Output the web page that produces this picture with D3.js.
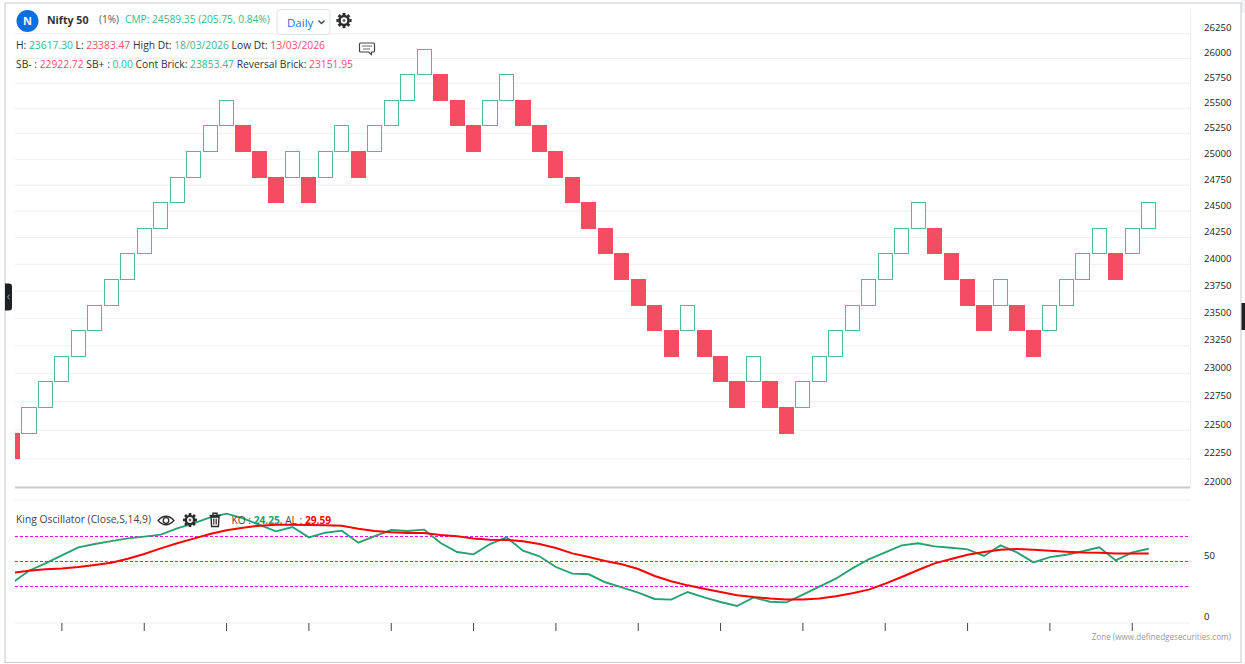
<!DOCTYPE html>
<html lang="en">
<head>
<meta charset="UTF-8">
<title>Nifty 50 Renko</title>
<style>
    html, body { margin: 0; padding: 0; background: #fff; overflow: hidden; }
    text { font-family: "Open Sans", "Noto Sans", sans-serif; }
    .grid line { stroke: #eeeeee; stroke-width: 1px; }
    .grid path, .axis path, .axis line { display: none; }
    .axis text { font-size: 9.6px; fill: #222; }
    .xticks path { display: none; }
    .xticks line { stroke: #444; stroke-width: 1px; }
</style>
</head>
<body>
<script src="https://d3js.org/d3.v7.min.js"></script>
<script>
    // 1% renko levels
    const brickLevels = [22248.57, 22471.05, 22695.76, 22922.72, 23151.95, 23383.47, 23617.30, 23853.47,
        24092.00, 24332.92, 24576.25, 24822.01, 25070.23, 25320.93, 25574.14, 25829.88, 26088.18];

    // level index each brick opens and closes at
    const brickOpen = [1, 1, 2, 3, 4, 5, 6, 7, 8, 9, 10, 11, 12, 13, 13, 12, 11, 11, 11, 11,
        12, 12, 12, 13, 14, 15, 15, 14, 13, 13, 14, 14, 13, 12, 11, 10, 9, 8, 7, 6,
        5, 5, 5, 4, 3, 3, 3, 2, 2, 3, 4, 5, 6, 7, 8, 9, 9, 8, 7, 6,
        6, 6, 5, 5, 6, 7, 8, 8, 8, 9];
    const brickClose = [0, 2, 3, 4, 5, 6, 7, 8, 9, 10, 11, 12, 13, 14, 12, 11, 10, 12, 10, 12,
        13, 11, 13, 14, 15, 16, 14, 13, 12, 14, 15, 13, 12, 11, 10, 9, 8, 7, 6, 5,
        4, 6, 4, 3, 2, 4, 2, 1, 3, 4, 5, 6, 7, 8, 9, 10, 8, 7, 6, 5,
        7, 5, 4, 6, 7, 8, 9, 7, 9, 10];

    const koValues = [32.4, 42.1, 48.1, 54.6, 61.1, 63.8, 66.2, 68.4, 69.8, 71.4,
        76.6, 80.6, 85.5, 88.5, 84.7, 79.3, 74.1, 77.6, 69.2, 73.0,
        74.7, 64.9, 70.3, 75.2, 74.4, 75.5, 64.6, 57.3, 55.4, 63.8,
        69.2, 58.4, 53.8, 45.1, 39.7, 39.2, 32.7, 28.6, 24.3, 19.1,
        18.6, 24.8, 20.4, 16.7, 13.4, 20.4, 16.9, 16.4, 22.6, 29.1,
        35.6, 44.0, 51.4, 57.0, 62.7, 64.4, 61.9, 60.8, 59.5, 54.1,
        62.7, 57.0, 48.9, 53.2, 55.1, 57.9, 61.1, 50.5, 57.0, 60.0];
    const alValues = [40.5, 42.1, 43.2, 44.0, 45.1, 46.7, 48.6, 51.9, 55.7, 60.3,
        64.4, 68.2, 72.0, 75.0, 77.1, 78.7, 79.5, 79.5, 79.3, 79.0,
        78.7, 76.3, 74.4, 73.3, 72.8, 72.8, 71.1, 70.1, 68.2, 67.3,
        67.1, 66.0, 63.8, 60.6, 56.2, 53.2, 50.0, 47.3, 43.5, 37.8,
        33.5, 30.2, 27.5, 24.8, 22.1, 20.7, 19.6, 18.8, 18.8, 19.6,
        21.3, 23.7, 26.7, 31.6, 37.0, 42.7, 48.1, 51.6, 55.1, 57.3,
        59.2, 59.8, 59.2, 58.4, 57.6, 57.0, 56.8, 56.0, 56.0, 56.0];

    const priceTicks = [22000, 22250, 22500, 22750, 23000, 23250, 23500, 23750, 24000, 24250,
        24500, 24750, 25000, 25250, 25500, 25750, 26000, 26250];
    const koTicks = [0, 50];
    const koGrid = [0, 100];
    const koBands = [30, 50, 70];
    const columnTicks = d3.range(3, 70, 5);

    const headerRows = [
        [["H: ", "ink"], ["23617.30", "up"], [" L: ", "ink"], ["23383.47", "down"], [" High Dt: ", "ink"],
            ["18/03/2026", "up"], [" Low Dt: ", "ink"], ["13/03/2026", "down"]],
        [["SB- : ", "ink"], ["22922.72", "down"], [" SB+ : ", "ink"], ["0.00", "up"], [" Cont Brick: ", "ink"],
            ["23853.47", "up"], [" Reversal Brick: ", "ink"], ["23151.95", "down"]]
    ];

    const width = 1245;
    const height = 664;
    const plotLeft = 15;
    const plotRight = 1190;
    const tone = {ink: "#333", up: "#3fb68b", down: "#f4506a"};

    const svg = d3.select("body").append("svg")
        .attr("width", width)
        .attr("height", height)
        .style("display", "block");

    svg.append("clipPath").attr("id", "plot")
        .append("rect").attr("x", plotLeft).attr("y", 0).attr("width", plotRight - plotLeft).attr("height", height);

    const x = d3.scaleBand()
        .domain(d3.range(brickOpen.length))
        .range([4.27, 1156.93])
        .paddingInner(0.14)
        .paddingOuter(0.07);
    const cx = i => x(i) + x.bandwidth() / 2;

    const y = d3.scaleLog().domain([22000, 26250]).range([487.5, 33.3]);
    const yKo = d3.scaleLinear().domain([0, 100]).range([622.5, 499.5]);

    // page frame
    svg.append("rect").attr("x", 1241).attr("y", 0).attr("width", 4).attr("height", 13).attr("fill", "#f1f3f6");
    svg.append("rect").attr("x", 5).attr("y", 3).attr("width", 1236).attr("height", 659.5)
        .attr("fill", "none").attr("stroke", "#c8c8c8").attr("stroke-width", 1);

    // grids
    svg.append("g").attr("class", "grid")
        .attr("transform", `translate(${plotRight},0)`)
        .call(d3.axisLeft(y).tickValues(priceTicks.slice(1)).tickSize(plotRight - plotLeft).tickFormat(""));
    svg.append("g").attr("class", "grid")
        .attr("transform", `translate(${plotRight},0)`)
        .call(d3.axisLeft(yKo).tickValues(koGrid).tickSize(plotRight - plotLeft).tickFormat(""));

    svg.append("line").attr("x1", plotRight + 0.5).attr("x2", plotRight + 0.5).attr("y1", 9).attr("y2", 487)
        .attr("stroke", "#eee");
    svg.append("line").attr("x1", plotLeft).attr("x2", plotRight).attr("y1", 487.5).attr("y2", 487.5)
        .attr("stroke", "#c8c8c8").attr("stroke-width", 2);

    // bricks
    const bricks = brickOpen.map((o, i) => ({i, open: brickLevels[o], close: brickLevels[brickClose[i]]}));
    svg.append("g").attr("clip-path", "url(#plot)")
        .selectAll("rect").data(bricks).join("rect")
        .attr("x", d => x(d.i))
        .attr("width", x.bandwidth())
        .attr("y", d => y(Math.max(d.open, d.close)))
        .attr("height", d => y(Math.min(d.open, d.close)) - y(Math.max(d.open, d.close)))
        .attr("fill", d => d.close > d.open ? "#fff" : "#f44d62")
        .attr("stroke", d => d.close > d.open ? "#4fbc93" : "#f44d62")
        .attr("stroke-width", 1)
        .attr("shape-rendering", "crispEdges");

    // price axis
    const priceAxis = svg.append("g").attr("class", "axis")
        .attr("transform", `translate(${plotRight},0)`)
        .call(d3.axisRight(y).tickValues(priceTicks).tickSize(0).tickPadding(14).tickFormat(d3.format("d")));
    priceAxis.selectAll("text").attr("dy", "-0.27em");

    const koAxis = svg.append("g").attr("class", "axis")
        .attr("transform", `translate(${plotRight},0)`)
        .call(d3.axisRight(yKo).tickValues(koTicks).tickSize(0).tickPadding(14).tickFormat(d3.format("d")));
    koAxis.selectAll("text").attr("dy", "-0.27em");

    // oscillator
    svg.append("g").selectAll("line").data(koBands).join("line")
        .attr("x1", plotLeft).attr("x2", plotRight)
        .attr("y1", d => Math.round(yKo(d)) + 0.5).attr("y2", d => Math.round(yKo(d)) + 0.5)
        .attr("stroke", "#f000f0").attr("stroke-width", 1).attr("stroke-dasharray", "3,2");

    const koLine = d3.line().x((d, i) => cx(i)).y(d => yKo(d));
    const lines = svg.append("g").attr("clip-path", "url(#plot)").attr("fill", "none");
    lines.append("path").datum(koValues).attr("d", koLine).attr("stroke", "#26a172").attr("stroke-width", 1.9);
    lines.append("path").datum(alValues).attr("d", koLine).attr("stroke", "#ff0000").attr("stroke-width", 2);

    svg.append("g").attr("class", "xticks")
        .attr("transform", "translate(0,623)")
        .call(d3.axisBottom(x).tickValues(columnTicks).tickSize(8).tickFormat(""));

    // header
    svg.append("circle").attr("cx", 27.5).attr("cy", 21).attr("r", 11).attr("fill", "#0d6ee0");
    svg.append("text").attr("x", 27.5).attr("y", 25).attr("text-anchor", "middle")
        .attr("fill", "#fff").attr("font-size", 11).attr("font-weight", 700).text("N");
    svg.append("text").attr("x", 47).attr("y", 24).attr("fill", "#333")
        .attr("font-size", 10.6).attr("font-weight", 700).text("Nifty 50");
    svg.append("text").attr("x", 99).attr("y", 23).attr("fill", "#555").attr("font-size", 10).text("(1%)");
    svg.append("text").attr("x", 125).attr("y", 23).attr("fill", tone.up).attr("font-size", 10.2)
        .text("CMP: 24589.35 (205.75, 0.84%)");

    svg.append("rect").attr("x", 277).attr("y", 9.5).attr("width", 53).attr("height", 25).attr("rx", 3)
        .attr("fill", "#fff").attr("stroke", "#dde2e8");
    svg.append("text").attr("x", 287).attr("y", 27).attr("fill", "#1a73e8").attr("font-size", 11.5).text("Daily");
    svg.append("path").attr("d", "M318.5 20.5l3 3 3-3").attr("fill", "none").attr("stroke", "#444").attr("stroke-width", 1.3);

    function gear(cxp, cyp, r) {
        const g = svg.append("g").attr("transform", `translate(${cxp},${cyp})`);
        g.append("circle").attr("r", r * 0.76).attr("fill", "#2b2b2b");
        g.selectAll("line").data(d3.range(8)).join("line")
            .attr("y1", -r * 0.7).attr("y2", -r)
            .attr("transform", d => `rotate(${d * 45})`)
            .attr("stroke", "#2b2b2b").attr("stroke-width", r * 0.38);
        g.append("circle").attr("r", r * 0.42).attr("fill", "#fff");
        g.append("circle").attr("r", r * 0.2).attr("fill", "#666");
    }
    gear(344, 20.5, 7.6);
    gear(190, 520, 7);

    headerRows.forEach((row, r) => {
        const t = svg.append("text").attr("x", 16).attr("y", 48.5 + r * 19)
            .attr("font-size", 10.3).style("white-space", "pre");
        row.forEach(([s, c]) => t.append("tspan").attr("fill", tone[c]).text(s));
    });

    // comment icon
    svg.append("path").attr("d", "M360.5 43h13a1 1 0 0 1 1 1v7a1 1 0 0 1-1 1h-2v2.5l-3-2.5h-8a1 1 0 0 1-1-1v-7a1 1 0 0 1 1-1z")
        .attr("fill", "#fff").attr("stroke", "#444").attr("stroke-width", 1.2);
    svg.append("path").attr("d", "M362 46h10M363 49h7").attr("stroke", "#666").attr("stroke-width", 1);

    // indicator legend
    svg.append("text").attr("x", 16).attr("y", 523).attr("fill", "#444").attr("font-size", 10.3)
        .text("King Oscillator (Close,S,14,9)");
    svg.append("path").attr("d", "M158 520.5q8-8.5 16 0q-8 8.5-16 0z").attr("fill", "#fff").attr("stroke", "#2b2b2b").attr("stroke-width", 1.3);
    svg.append("circle").attr("cx", 166).attr("cy", 520.5).attr("r", 2.8).attr("fill", "none").attr("stroke", "#2b2b2b").attr("stroke-width", 1.3);
    svg.append("path").attr("d", "M209.5 515.5h11M213 515v-1.7h4v1.7M211 517h8l-0.6 9.5h-6.8z").attr("fill", "none").attr("stroke", "#2b2b2b").attr("stroke-width", 1.4);
    svg.append("path").attr("d", "M213.5 518.5v6M215 518.5v6M216.5 518.5v6").attr("stroke", "#2b2b2b").attr("stroke-width", 0.8);

    const koLabel = svg.append("text").attr("x", 231.5).attr("y", 523.5).attr("font-size", 10.2).style("white-space", "pre");
    koLabel.append("tspan").attr("fill", "#444").text("KO : ");
    koLabel.append("tspan").attr("fill", "#1a9e6c").attr("font-weight", 700).text("24.25");
    koLabel.append("tspan").attr("fill", "#444").text(", AL : ");
    koLabel.append("tspan").attr("fill", "#ff0000").attr("font-weight", 700).text("29.59");

    svg.append("text").attr("x", 1231).attr("y", 640).attr("text-anchor", "end").attr("fill", "#999").attr("font-size", 8.15)
        .text("Zone (www.definedgesecurities.com)");

    // side handles
    svg.append("path").attr("d", "M5 283.5h4a3 3 0 0 1 3 3v21a3 3 0 0 1-3 3h-4z").attr("fill", "#1f2024");
    svg.append("path").attr("d", "M9.5 294.5l-1.8 2.5 1.8 2.5").attr("fill", "none").attr("stroke", "#aab").attr("stroke-width", 0.9);
    svg.append("rect").attr("x", 1241.5).attr("y", 303).attr("width", 3.5).attr("height", 27).attr("fill", "#1f2024");
</script>
</body>
</html>
